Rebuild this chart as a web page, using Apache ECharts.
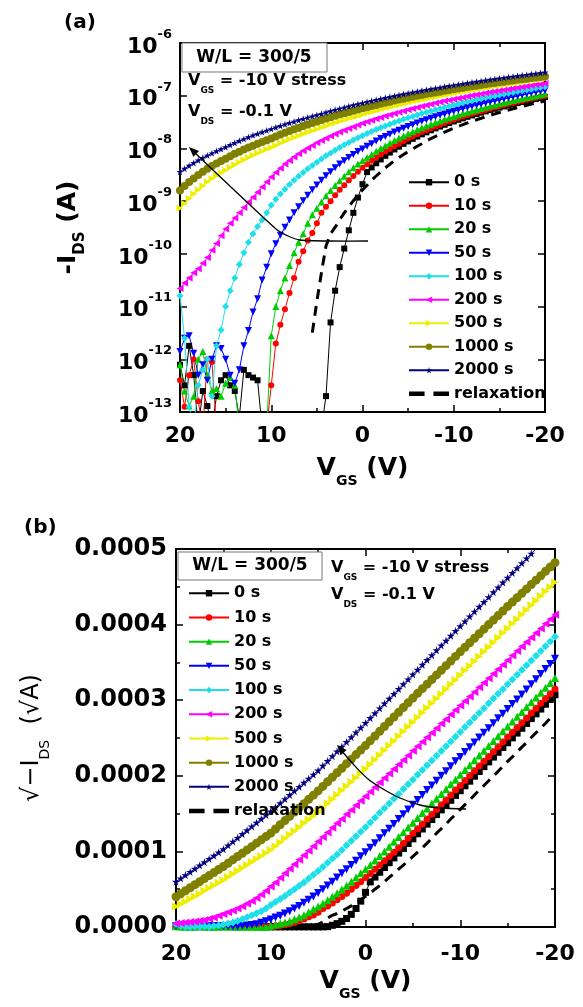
<!DOCTYPE html>
<html>
<head>
<meta charset="utf-8">
<script src="https://cdn.jsdelivr.net/npm/echarts@6.0.0/dist/echarts.min.js"></script>
<style>
html, body { margin: 0; padding: 0; background: #fff; }
#chartDiv { width: 583px; height: 1007px; }
</style>
</head>
<body>
<div id="chartDiv"></div>
<script>
// 初始化图表
var myChart = echarts.init(document.getElementById('chartDiv'));

// 栅压 VGS (V)
var vgs = [
    20, 19.5, 19, 18.5, 18, 17.5, 17, 16.5, 16, 15.5, 15, 14.5, 14, 13.5, 13, 12.5, 12, 11.5, 11, 10.5, 10,
    9.5, 9, 8.5, 8, 7.5, 7, 6.5, 6, 5.5, 5, 4.5, 4, 3.5, 3, 2.5, 2, 1.5, 1, 0.5, 0,
    -0.5, -1, -1.5, -2, -2.5, -3, -3.5, -4, -4.5, -5, -5.5, -6, -6.5, -7, -7.5, -8, -8.5, -9, -9.5, -10,
    -10.5, -11, -11.5, -12, -12.5, -13, -13.5, -14, -14.5, -15, -15.5, -16, -16.5, -17, -17.5, -18, -18.5, -19, -19.5, -20
];

// -IDS (A)，各应力时间
var ids0s = [
    7.9e-13, 3.2e-13, 1.8e-12, 5e-13, 5e-14, 2.5e-13, 1.3e-13, 5e-14, 2e-13, 4e-13, 5e-13, 3.2e-13, 2.5e-13, 8e-14, 6.3e-13, 5e-13, 4.5e-13, 4e-13, 5e-14, 5e-14, 5e-14,
    5e-14, 5e-14, 5e-14, 5e-14, 5e-14, 5e-14, 5e-14, 5e-14, 5e-14, 5e-14, 5e-14, 2e-13, 5e-12, 2e-11, 5.6e-11, 1.26e-10, 2.8e-10, 6.0e-10, 1.17e-9, 2.1e-9,
    3.56e-9, 4.36e-9, 5.24e-9, 6.19e-9, 7.24e-9, 8.35e-9, 9.56e-9, 1.08e-8, 1.22e-8, 1.36e-8, 1.52e-8, 1.68e-8, 1.85e-8, 2.02e-8, 2.21e-8, 2.40e-8, 2.60e-8, 2.81e-8, 3.03e-8, 3.25e-8,
    3.49e-8, 3.72e-8, 3.98e-8, 4.23e-8, 4.50e-8, 4.77e-8, 5.05e-8, 5.34e-8, 5.64e-8, 5.94e-8, 6.26e-8, 6.58e-8, 6.91e-8, 7.25e-8, 7.60e-8, 7.95e-8, 8.31e-8, 8.68e-8, 9.06e-8, 9.44e-8
];
var ids10s = [
    4e-13, 1.26e-13, 5e-13, 1e-12, 1.6e-13, 5e-14, 1e-12, 8.9e-13, 5e-14, 5e-14, 5e-14, 5e-14, 5e-14, 5e-14, 5e-14, 5e-14, 5e-14, 5e-14, 5e-14, 5e-14, 3.2e-13,
    2e-12, 4.5e-12, 8.9e-12, 1.8e-11, 3.5e-11, 7.1e-11, 1.12e-10, 1.8e-10, 2.5e-10, 3.8e-10, 6.0e-10, 7.8e-10, 1.0e-9, 1.3e-9, 1.64e-9, 2.0e-9, 2.5e-9, 3.0e-9, 3.6e-9, 4.3e-9,
    5.0e-9, 5.85e-9, 6.7e-9, 7.7e-9, 8.7e-9, 9.8e-9, 1.10e-8, 1.23e-8, 1.38e-8, 1.54e-8, 1.69e-8, 1.86e-8, 2.04e-8, 2.22e-8, 2.42e-8, 2.62e-8, 2.82e-8, 3.05e-8, 3.28e-8, 3.50e-8,
    3.76e-8, 4.01e-8, 4.27e-8, 4.53e-8, 4.81e-8, 5.09e-8, 5.38e-8, 5.68e-8, 5.99e-8, 6.31e-8, 6.63e-8, 6.96e-8, 7.30e-8, 7.65e-8, 8.01e-8, 8.38e-8, 8.75e-8, 9.13e-8, 9.52e-8, 9.92e-8
];
var ids20s = [
    7.9e-13, 2.5e-13, 1.3e-13, 2e-13, 1e-12, 1.4e-12, 5e-13, 2.5e-13, 2.8e-13, 2e-13, 3.5e-13, 4.5e-13, 3.2e-13, 5e-14, 5e-14, 5e-14, 5e-14, 5e-14, 5e-14, 5e-14, 2.8e-12,
    1e-11, 2e-11, 3.5e-11, 6e-11, 1.05e-10, 1.66e-10, 2.4e-10, 3.8e-10, 5.5e-10, 7.3e-10, 9.6e-10, 1.26e-9, 1.6e-9, 1.98e-9, 2.45e-9, 2.97e-9, 3.6e-9, 4.29e-9, 5.04e-9, 5.85e-9,
    6.72e-9, 7.71e-9, 8.84e-9, 1.00e-8, 1.13e-8, 1.27e-8, 1.42e-8, 1.57e-8, 1.73e-8, 1.90e-8, 2.08e-8, 2.27e-8, 2.46e-8, 2.67e-8, 2.88e-8, 3.10e-8, 3.32e-8, 3.56e-8, 3.80e-8, 4.05e-8,
    4.31e-8, 4.58e-8, 4.86e-8, 5.14e-8, 5.44e-8, 5.74e-8, 6.05e-8, 6.37e-8, 6.70e-8, 7.03e-8, 7.38e-8, 7.73e-8, 8.09e-8, 8.46e-8, 8.83e-8, 9.22e-8, 9.61e-8, 1.001e-7, 1.042e-7, 1.084e-7
];
var ids50s = [
    1.4e-12, 2.5e-12, 2.8e-12, 1.3e-12, 5e-13, 7.9e-13, 4e-13, 1e-12, 1.8e-12, 1.6e-12, 1e-12, 5e-13, 3.5e-13, 6.3e-13, 1.8e-12, 3.5e-12, 7.9e-12, 1.4e-11, 3.2e-11, 5.6e-11, 1.0e-10,
    1.56e-10, 2.25e-10, 3.2e-10, 4.4e-10, 6.0e-10, 7.8e-10, 1.02e-9, 1.30e-9, 1.64e-9, 2.03e-9, 2.50e-9, 3.03e-9, 3.60e-9, 4.29e-9, 5.04e-9, 5.85e-9, 6.72e-9, 7.66e-9, 8.74e-9, 9.80e-9,
    1.10e-8, 1.23e-8, 1.38e-8, 1.54e-8, 1.69e-8, 1.86e-8, 2.04e-8, 2.22e-8, 2.42e-8, 2.62e-8, 2.82e-8, 3.05e-8, 3.28e-8, 3.50e-8, 3.74e-8, 4.00e-8, 4.24e-8, 4.52e-8, 4.80e-8, 5.06e-8,
    5.36e-8, 5.66e-8, 5.95e-8, 6.28e-8, 6.60e-8, 6.92e-8, 7.26e-8, 7.62e-8, 7.95e-8, 8.32e-8, 8.70e-8, 9.06e-8, 9.46e-8, 9.86e-8, 1.03e-7, 1.075e-7, 1.12e-7, 1.165e-7, 1.21e-7, 1.26e-7
];
var ids100s = [
    1.6e-11, 2.5e-12, 1.26e-13, 5e-14, 3.2e-13, 6.3e-13, 1e-12, 2e-13, 1.8e-12, 3.6e-12, 1e-11, 2e-11, 3.5e-11, 6.3e-11, 1.05e-10, 1.66e-10, 2.4e-10, 3.3e-10, 4.4e-10, 6.0e-10, 8.4e-10,
    1.09e-9, 1.37e-9, 1.68e-9, 2.07e-9, 2.50e-9, 2.97e-9, 3.48e-9, 4.10e-9, 4.76e-9, 5.48e-9, 6.32e-9, 7.23e-9, 8.19e-9, 9.22e-9, 1.04e-8, 1.17e-8, 1.30e-8, 1.44e-8, 1.59e-8, 1.74e-8,
    1.91e-8, 2.09e-8, 2.28e-8, 2.47e-8, 2.67e-8, 2.88e-8, 3.10e-8, 3.33e-8, 3.56e-8, 3.80e-8, 4.05e-8, 4.31e-8, 4.58e-8, 4.85e-8, 5.13e-8, 5.42e-8, 5.72e-8, 6.02e-8, 6.34e-8, 6.66e-8,
    6.99e-8, 7.32e-8, 7.67e-8, 8.02e-8, 8.38e-8, 8.75e-8, 9.13e-8, 9.51e-8, 9.90e-8, 1.030e-7, 1.071e-7, 1.113e-7, 1.155e-7, 1.199e-7, 1.243e-7, 1.287e-7, 1.333e-7, 1.379e-7, 1.427e-7, 1.475e-7
];
var ids200s = [
    2.2e-11, 2.8e-11, 3.5e-11, 4.4e-11, 5.2e-11, 6.6e-11, 8.5e-11, 1.17e-10, 1.58e-10, 2.2e-10, 2.95e-10, 3.8e-10, 4.8e-10, 6.0e-10, 7.6e-10, 9.6e-10, 1.19e-9, 1.48e-9, 1.85e-9, 2.30e-9, 2.86e-9,
    3.48e-9, 4.23e-9, 5.04e-9, 5.93e-9, 6.89e-9, 7.92e-9, 9.03e-9, 1.02e-8, 1.14e-8, 1.28e-8, 1.42e-8, 1.56e-8, 1.72e-8, 1.88e-8, 2.04e-8, 2.22e-8, 2.40e-8, 2.59e-8, 2.79e-8, 2.99e-8,
    3.20e-8, 3.42e-8, 3.65e-8, 3.88e-8, 4.12e-8, 4.37e-8, 4.62e-8, 4.88e-8, 5.15e-8, 5.43e-8, 5.71e-8, 6.00e-8, 6.30e-8, 6.60e-8, 6.92e-8, 7.24e-8, 7.56e-8, 7.90e-8, 8.24e-8, 8.58e-8,
    8.94e-8, 9.30e-8, 9.67e-8, 1.005e-7, 1.043e-7, 1.082e-7, 1.122e-7, 1.163e-7, 1.204e-7, 1.246e-7, 1.289e-7, 1.332e-7, 1.376e-7, 1.421e-7, 1.467e-7, 1.513e-7, 1.560e-7, 1.608e-7, 1.656e-7, 1.706e-7
];
var ids500s = [
    7.3e-10, 9.0e-10, 1.12e-9, 1.37e-9, 1.64e-9, 1.94e-9, 2.30e-9, 2.65e-9, 3.03e-9, 3.42e-9, 3.84e-9, 4.36e-9, 4.90e-9, 5.48e-9, 6.08e-9, 6.72e-9, 7.40e-9, 8.10e-9, 8.84e-9, 9.60e-9, 1.04e-8,
    1.14e-8, 1.25e-8, 1.37e-8, 1.49e-8, 1.61e-8, 1.74e-8, 1.88e-8, 2.02e-8, 2.16e-8, 2.31e-8, 2.49e-8, 2.67e-8, 2.86e-8, 3.06e-8, 3.26e-8, 3.47e-8, 3.68e-8, 3.90e-8, 4.13e-8, 4.37e-8,
    4.63e-8, 4.90e-8, 5.18e-8, 5.47e-8, 5.76e-8, 6.06e-8, 6.37e-8, 6.69e-8, 7.01e-8, 7.34e-8, 7.68e-8, 8.03e-8, 8.39e-8, 8.75e-8, 9.12e-8, 9.50e-8, 9.88e-8, 1.028e-7, 1.068e-7, 1.109e-7,
    1.151e-7, 1.193e-7, 1.236e-7, 1.280e-7, 1.325e-7, 1.370e-7, 1.417e-7, 1.464e-7, 1.512e-7, 1.560e-7, 1.609e-7, 1.658e-7, 1.708e-7, 1.759e-7, 1.810e-7, 1.863e-7, 1.916e-7, 1.970e-7, 2.024e-7, 2.079e-7
];
var ids1000s = [
    1.60e-9, 1.94e-9, 2.30e-9, 2.70e-9, 3.14e-9, 3.60e-9, 4.10e-9, 4.62e-9, 5.18e-9, 5.78e-9, 6.40e-9, 7.12e-9, 7.89e-9, 8.69e-9, 9.53e-9, 1.04e-8, 1.13e-8, 1.23e-8, 1.33e-8, 1.43e-8, 1.54e-8,
    1.68e-8, 1.83e-8, 1.98e-8, 2.14e-8, 2.31e-8, 2.48e-8, 2.66e-8, 2.85e-8, 3.04e-8, 3.24e-8, 3.46e-8, 3.69e-8, 3.92e-8, 4.16e-8, 4.41e-8, 4.67e-8, 4.93e-8, 5.20e-8, 5.48e-8, 5.76e-8,
    6.07e-8, 6.38e-8, 6.70e-8, 7.03e-8, 7.37e-8, 7.72e-8, 8.07e-8, 8.43e-8, 8.80e-8, 9.18e-8, 9.55e-8, 9.94e-8, 1.032e-7, 1.072e-7, 1.112e-7, 1.153e-7, 1.195e-7, 1.238e-7, 1.281e-7, 1.325e-7,
    1.369e-7, 1.414e-7, 1.459e-7, 1.505e-7, 1.552e-7, 1.600e-7, 1.648e-7, 1.697e-7, 1.747e-7, 1.798e-7, 1.847e-7, 1.897e-7, 1.948e-7, 2.000e-7, 2.052e-7, 2.105e-7, 2.159e-7, 2.213e-7, 2.268e-7, 2.323e-7
];
var ids2000s = [
    3.60e-9, 4.13e-9, 4.71e-9, 5.31e-9, 5.96e-9, 6.64e-9, 7.36e-9, 8.12e-9, 8.91e-9, 9.74e-9, 1.061e-8, 1.166e-8, 1.277e-8, 1.392e-8, 1.513e-8, 1.638e-8, 1.769e-8, 1.904e-8, 2.045e-8, 2.190e-8, 2.341e-8,
    2.509e-8, 2.683e-8, 2.863e-8, 3.049e-8, 3.240e-8, 3.437e-8, 3.640e-8, 3.849e-8, 4.064e-8, 4.285e-8, 4.550e-8, 4.822e-8, 5.103e-8, 5.392e-8, 5.688e-8, 5.993e-8, 6.305e-8, 6.625e-8, 6.954e-8, 7.290e-8,
    7.640e-8, 7.998e-8, 8.364e-8, 8.738e-8, 9.120e-8, 9.511e-8, 9.910e-8, 1.032e-7, 1.073e-7, 1.116e-7, 1.159e-7, 1.203e-7, 1.248e-7, 1.293e-7, 1.340e-7, 1.387e-7, 1.435e-7, 1.484e-7, 1.534e-7, 1.584e-7,
    1.635e-7, 1.688e-7, 1.741e-7, 1.794e-7, 1.849e-7, 1.904e-7, 1.961e-7, 2.018e-7, 2.076e-7, 2.134e-7, 2.194e-7, 2.254e-7, 2.316e-7, 2.378e-7, 2.440e-7, 2.504e-7, 2.568e-7, 2.634e-7, 2.700e-7, 2.767e-7
];
var idsRelax = [
    null, null, null, null, null, null, null, null, null, null, null, null, null, null, null, null, null, null, null, null, null,
    null, null, null, null, null, null, null, null, 3.2e-12, 1.26e-11, 4.4e-11, 1.41e-10, 2.4e-10, 3.2e-10, 4.4e-10, 6.0e-10, 7.8e-10, 1.02e-9, 1.30e-9, 1.64e-9,
    2.0e-9, 2.5e-9, 3.0e-9, 3.6e-9, 4.3e-9, 5.0e-9, 5.85e-9, 6.7e-9, 7.7e-9, 8.7e-9, 9.8e-9, 1.10e-8, 1.23e-8, 1.38e-8, 1.54e-8, 1.69e-8, 1.86e-8, 2.04e-8, 2.22e-8, 2.42e-8,
    2.62e-8, 2.82e-8, 3.05e-8, 3.28e-8, 3.50e-8, 3.74e-8, 4.00e-8, 4.24e-8, 4.52e-8, 4.80e-8, 5.06e-8, 5.36e-8, 5.66e-8, 5.95e-8, 6.28e-8, 6.60e-8, 6.92e-8, 7.26e-8, 7.62e-8, 7.95e-8
];

var seriesNames = ['0 s', '10 s', '20 s', '50 s', '100 s', '200 s', '500 s', '1000 s', '2000 s', 'relaxation'];
var idsList = [ids0s, ids10s, ids20s, ids50s, ids100s, ids200s, ids500s, ids1000s, ids2000s, idsRelax];

// 样式
var FONT = '"DejaVu Sans", sans-serif';
var colors = ['#000000', '#ff0000', '#00cc00', '#0000ff', '#1edfe8', '#ff00ff', '#eeee00', '#808000', '#000080', '#000000'];
var STAR = 'path://M50,0 L61,35 L98,35 L68,57 L79,91 L50,70 L21,91 L32,57 L2,35 L39,35 Z';
var symbols = ['rect', 'circle', 'triangle', 'triangle', 'diamond', 'triangle', 'triangle', 'circle', STAR, 'none'];
var rotates = [0, 0, 0, 180, 0, 90, -90, 0, 0, 0];
var sizes = [6, 6, 7, 7, 7, 7, 7, 8, 7, 0];
var DASHES = 'path://M0,0 H14 V4 H0 Z M22,0 H36 V4 H22 Z';

function makeSeries(k, g) {
    var isRelax = seriesNames[k] === 'relaxation';
    var src = idsList[k];
    var data = vgs.map(function (v, j) {
        var y = src[j];
        if (y == null) return [v, '-'];
        return [v, g === 0 ? y : Math.sqrt(y)];
    });
    return {
        name: seriesNames[k],
        type: 'line',
        xAxisIndex: g * 2,
        yAxisIndex: g * 2,
        data: data,
        symbol: symbols[k],
        symbolSize: sizes[k] + (g === 1 ? 1 : 0),
        symbolRotate: rotates[k],
        showSymbol: !isRelax,
        clip: true,
        silent: true,
        lineStyle: {color: colors[k], width: isRelax ? 3 : 1, type: isRelax ? [10, 7] : 'solid'},
        itemStyle: {color: colors[k]}
    };
}

var series = [];
[0, 1].forEach(function (g) {
    for (var k = 0; k < seriesNames.length; k++) {
        series.push(makeSeries(k, g));
    }
});

// 图例项（relaxation 只画两段粗虚线）
var legendData = seriesNames.map(function (n) {
    return n === 'relaxation' ? {name: n, icon: DASHES} : {name: n};
});

// 坐标轴
var subRich = {
    m: {fontFamily: FONT, fontWeight: 'bold', fontSize: 25, lineHeight: 32, verticalAlign: 'top', color: '#000'},
    s: {fontFamily: FONT, fontWeight: 'bold', fontSize: 14, lineHeight: 32, verticalAlign: 'bottom', color: '#000'}
};
var lineBox = {show: true, onZero: false, lineStyle: {color: '#000', width: 2}};
var tickIn = {show: true, inside: true, length: 7, lineStyle: {color: '#000', width: 1.5}};
var minorIn = {show: true, splitNumber: 2, length: 4, lineStyle: {color: '#000', width: 1.5}};

function xAxisBase(grid, pos, showLabel, nameGap, labelMargin) {
    return {
        type: 'value', gridIndex: grid, position: pos,
        min: -20, max: 20, interval: 10, inverse: true,
        axisLine: lineBox, axisTick: tickIn, minorTick: minorIn,
        splitLine: {show: false},
        axisLabel: {show: showLabel, margin: labelMargin, color: '#000', fontFamily: FONT, fontWeight: 'bold', fontSize: 22},
        name: showLabel ? '{m|V}{s|GS}{m| (V)}' : '',
        nameLocation: 'middle', nameGap: nameGap,
        nameTextStyle: {rich: subRich}
    };
}

var option = {
    backgroundColor: '#ffffff',
    animation: false,
    textStyle: {fontFamily: FONT},
    grid: [
        {left: 180, top: 43, width: 365, height: 369, show: true, borderColor: '#000', borderWidth: 2, backgroundColor: 'transparent'},
        {left: 176, top: 549, width: 379, height: 378, show: true, borderColor: '#000', borderWidth: 2, backgroundColor: 'transparent'}
    ],
    xAxis: [
        xAxisBase(0, 'bottom', true, 44, 13),
        xAxisBase(0, 'top', false, 0, 8),
        xAxisBase(1, 'bottom', true, 42, 16),
        xAxisBase(1, 'top', false, 0, 8)
    ],
    yAxis: [
        {
            type: 'log', logBase: 10, gridIndex: 0, position: 'left',
            min: 1e-13, max: 1e-6,
            axisLine: lineBox, axisTick: tickIn,
            splitLine: {show: false},
            axisLabel: {
                margin: 8,
                formatter: function (v) {
                    return '{b|10}{s|' + Math.round(Math.log10(v)) + '}';
                },
                rich: {
                    b: {fontFamily: FONT, fontWeight: 'bold', fontSize: 22, lineHeight: 30, verticalAlign: 'bottom', color: '#000'},
                    s: {fontFamily: FONT, fontWeight: 'bold', fontSize: 13, lineHeight: 30, verticalAlign: 'top', color: '#000'}
                }
            },
            name: '{m|-I}{s|DS}{m| (A)}',
            nameLocation: 'middle', nameRotate: 90, nameGap: 92,
            nameTextStyle: {rich: {
                m: {fontFamily: FONT, fontWeight: 'bold', fontSize: 25, lineHeight: 32, verticalAlign: 'top', color: '#000'},
                s: {fontFamily: FONT, fontWeight: 'bold', fontSize: 15, lineHeight: 32, verticalAlign: 'bottom', color: '#000'}
            }}
        },
        {
            type: 'log', logBase: 10, gridIndex: 0, position: 'right',
            min: 1e-13, max: 1e-6,
            axisLine: lineBox, axisTick: tickIn,
            splitLine: {show: false},
            axisLabel: {show: false}
        },
        {
            type: 'value', gridIndex: 1, position: 'left',
            min: 0, max: 0.0005, interval: 0.0001,
            axisLine: lineBox, axisTick: tickIn, minorTick: minorIn,
            splitLine: {show: false},
            axisLabel: {
                margin: 9, color: '#000', fontFamily: FONT, fontWeight: 'bold', fontSize: 24,
                formatter: function (v) { return v.toFixed(4); }
            },
            name: '{m|√−I}{s|DS}{m|  (√A)}',
            nameLocation: 'middle', nameRotate: 90, nameGap: 124,
            nameTextStyle: {rich: {
                m: {fontFamily: FONT, fontSize: 24, lineHeight: 32, verticalAlign: 'top', color: '#000'},
                s: {fontFamily: FONT, fontSize: 14, lineHeight: 32, verticalAlign: 'bottom', color: '#000'}
            }}
        },
        {
            type: 'value', gridIndex: 1, position: 'right',
            min: 0, max: 0.0005, interval: 0.0001,
            axisLine: lineBox, axisTick: tickIn, minorTick: minorIn,
            splitLine: {show: false},
            axisLabel: {show: false}
        }
    ],
    legend: [
        {
            data: legendData, orient: 'vertical', left: 403, top: 168,
            itemWidth: 40, itemHeight: 8, itemGap: 5, selectedMode: false,
            textStyle: {fontFamily: FONT, fontWeight: 'bold', fontSize: 16, lineHeight: 18.5, color: '#000'}
        },
        {
            data: legendData, orient: 'vertical', left: 183, top: 579,
            itemWidth: 40, itemHeight: 8, itemGap: 5.7, selectedMode: false,
            textStyle: {fontFamily: FONT, fontWeight: 'bold', fontSize: 16, lineHeight: 18.5, color: '#000'}
        }
    ],
    graphic: [
        // 面板标号
        {type: 'text', left: 64, top: 13, style: {text: '(a)', font: 'bold 20px ' + FONT, fill: '#000'}},
        {type: 'text', left: 24, top: 518, style: {text: '(b)', font: 'bold 20px ' + FONT, fill: '#000'}},
        // (a) 注释
        {type: 'rect', shape: {x: 182, y: 43, width: 145, height: 29}, style: {fill: '#fff', stroke: '#777', lineWidth: 1}, z: 10},
        {type: 'text', x: 254, y: 58, z: 11, style: {text: 'W/L = 300/5', font: 'bold 17px ' + FONT, fill: '#000', align: 'center', verticalAlign: 'middle'}},
        {type: 'text', x: 188, y: 84, z: 11, style: {text: '{m|V}{s|GS}{m| = -10 V stress}', verticalAlign: 'middle', rich: {
            m: {fontFamily: FONT, fontWeight: 'bold', fontSize: 16, lineHeight: 22, verticalAlign: 'top', fill: '#000'},
            s: {fontFamily: FONT, fontWeight: 'bold', fontSize: 9, lineHeight: 22, verticalAlign: 'bottom', fill: '#000'}
        }}},
        {type: 'text', x: 188, y: 115, z: 11, style: {text: '{m|V}{s|DS}{m| = -0.1 V}', verticalAlign: 'middle', rich: {
            m: {fontFamily: FONT, fontWeight: 'bold', fontSize: 16, lineHeight: 22, verticalAlign: 'top', fill: '#000'},
            s: {fontFamily: FONT, fontWeight: 'bold', fontSize: 9, lineHeight: 22, verticalAlign: 'bottom', fill: '#000'}
        }}},
        // (a) 箭头
        {type: 'polyline', z: 12, shape: {points: [[368, 241], [330, 241], [300, 240], [288, 236], [276, 229], [194, 152]], smooth: 0.2},
            style: {stroke: '#000', lineWidth: 1.3, fill: null}},
        {type: 'polygon', z: 12, shape: {points: [[189, 147], [199, 151], [193.4, 156.8]]}, style: {fill: '#000'}},
        // (b) 注释
        {type: 'rect', shape: {x: 178, y: 552, width: 144, height: 28}, style: {fill: '#fff', stroke: '#777', lineWidth: 1}, z: 10},
        {type: 'text', x: 250, y: 566, z: 11, style: {text: 'W/L = 300/5', font: 'bold 17px ' + FONT, fill: '#000', align: 'center', verticalAlign: 'middle'}},
        {type: 'text', x: 331, y: 571, z: 11, style: {text: '{m|V}{s|GS}{m| = -10 V stress}', verticalAlign: 'middle', rich: {
            m: {fontFamily: FONT, fontWeight: 'bold', fontSize: 16, lineHeight: 22, verticalAlign: 'top', fill: '#000'},
            s: {fontFamily: FONT, fontWeight: 'bold', fontSize: 9, lineHeight: 22, verticalAlign: 'bottom', fill: '#000'}
        }}},
        {type: 'text', x: 331, y: 598, z: 11, style: {text: '{m|V}{s|DS}{m| = -0.1 V}', verticalAlign: 'middle', rich: {
            m: {fontFamily: FONT, fontWeight: 'bold', fontSize: 16, lineHeight: 22, verticalAlign: 'top', fill: '#000'},
            s: {fontFamily: FONT, fontWeight: 'bold', fontSize: 9, lineHeight: 22, verticalAlign: 'bottom', fill: '#000'}
        }}},
        // (b) 箭头
        {type: 'polyline', z: 12, shape: {points: [[466, 809], [440, 808], [420, 805], [400, 798], [383, 789], [368, 779], [354, 765], [341, 750]], smooth: 0.3},
            style: {stroke: '#000', lineWidth: 1.3, fill: null}},
        {type: 'polygon', z: 12, shape: {points: [[337, 745], [346.6, 750], [340.6, 755.2]]}, style: {fill: '#000'}}
    ],
    series: series
};
myChart.setOption(option);
</script>
</body>
</html>
